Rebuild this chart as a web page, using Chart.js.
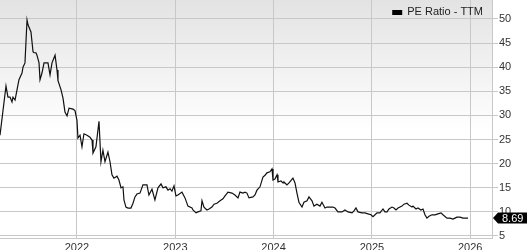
<!DOCTYPE html>
<html>
<head>
<meta charset="utf-8">
<script src="https://cdn.jsdelivr.net/npm/chart.js@4/dist/chart.umd.min.js"></script>
<style>
html, body { margin: 0; padding: 0; background: #fff; }
</style>
</head>
<body>
<canvas id="peChart" width="527" height="250"></canvas>
<script>
// dates as decimal years
const years = [
  2021.217, 2021.278, 2021.298, 2021.319, 2021.339, 2021.349, 2021.370, 2021.390, 2021.410, 2021.441,
  2021.451, 2021.471, 2021.492, 2021.502, 2021.532, 2021.553, 2021.563, 2021.583, 2021.593, 2021.614,
  2021.624, 2021.644, 2021.665, 2021.695, 2021.705, 2021.726, 2021.746, 2021.756, 2021.777, 2021.797,
  2021.807, 2021.838, 2021.858, 2021.878, 2021.899, 2021.919, 2021.960, 2021.980, 2022.000, 2022.010,
  2022.031, 2022.051, 2022.071, 2022.102, 2022.132, 2022.153, 2022.163, 2022.193, 2022.224, 2022.244,
  2022.264, 2022.285, 2022.315, 2022.336, 2022.356, 2022.376, 2022.407, 2022.427, 2022.448, 2022.468,
  2022.478, 2022.498, 2022.519, 2022.549, 2022.570, 2022.590, 2022.610, 2022.641, 2022.671, 2022.712,
  2022.732, 2022.763, 2022.793, 2022.824, 2022.855, 2022.875, 2022.905, 2022.926, 2022.946, 2022.966,
  2022.987, 2023.007, 2023.027, 2023.068, 2023.099, 2023.129, 2023.170, 2023.180, 2023.211, 2023.231,
  2023.261, 2023.272, 2023.292, 2023.322, 2023.343, 2023.373, 2023.394, 2023.424, 2023.455, 2023.485,
  2023.506, 2023.536, 2023.577, 2023.607, 2023.638, 2023.658, 2023.689, 2023.709, 2023.729, 2023.750,
  2023.790, 2023.811, 2023.831, 2023.862, 2023.892, 2023.913, 2023.933, 2023.963, 2023.984, 2023.994,
  2024.014, 2024.035, 2024.045, 2024.075, 2024.096, 2024.106, 2024.136, 2024.157, 2024.197, 2024.218,
  2024.238, 2024.258, 2024.289, 2024.309, 2024.340, 2024.360, 2024.391, 2024.411, 2024.441, 2024.472,
  2024.492, 2024.523, 2024.543, 2024.574, 2024.604, 2024.625, 2024.655, 2024.696, 2024.726, 2024.757,
  2024.798, 2024.818, 2024.838, 2024.859, 2024.899, 2024.930, 2024.960, 2024.991, 2025.011, 2025.032,
  2025.052, 2025.082, 2025.113, 2025.133, 2025.154, 2025.174, 2025.204, 2025.225, 2025.245, 2025.266,
  2025.306, 2025.327, 2025.357, 2025.377, 2025.408, 2025.418, 2025.449, 2025.469, 2025.499, 2025.520,
  2025.540, 2025.560, 2025.581, 2025.611, 2025.642, 2025.672, 2025.703, 2025.723, 2025.764, 2025.794,
  2025.825, 2025.845, 2025.865, 2025.896, 2025.927, 2025.957, 2025.978
];
const peValues = [
  25.9, 36.1, 33.8, 33.8, 32.8, 33.8, 33.2, 35.3, 37.4, 38.8,
  40.0, 40.9, 49.8, 48.8, 47.3, 43.2, 43.0, 43.0, 42.5, 40.9,
  37.4, 38.8, 40.9, 40.9, 40.9, 38.4, 40.9, 40.9, 42.5, 39.4,
  37.2, 35.3, 33.6, 30.7, 29.9, 31.5, 31.3, 31.0, 29.0, 25.3,
  25.9, 23.5, 26.2, 25.9, 25.5, 24.9, 22.2, 23.5, 28.8, 20.4,
  22.8, 20.4, 22.4, 20.4, 17.7, 17.0, 17.4, 16.6, 15.0, 15.2,
  12.5, 11.0, 10.8, 10.8, 11.8, 13.1, 13.7, 13.9, 15.6, 15.6,
  13.5, 14.7, 12.5, 15.0, 15.8, 15.0, 15.2, 14.5, 14.8, 14.3,
  15.4, 13.3, 13.5, 14.1, 12.9, 11.2, 10.8, 10.4, 9.8, 10.0,
  10.2, 12.3, 11.0, 10.4, 10.6, 11.0, 11.6, 11.8, 12.3, 12.7,
  13.3, 14.1, 13.9, 13.5, 12.9, 14.1, 13.9, 14.1, 13.9, 12.9,
  13.1, 13.5, 14.5, 15.2, 17.2, 17.6, 18.1, 18.3, 18.9, 16.6,
  16.8, 17.7, 16.2, 16.4, 16.0, 16.2, 15.6, 16.0, 17.0, 16.0,
  13.9, 12.0, 11.0, 12.0, 12.3, 13.1, 12.3, 11.2, 11.6, 11.2,
  12.0, 10.8, 11.0, 11.0, 11.0, 10.8, 10.0, 10.0, 10.4, 10.0,
  9.8, 10.2, 10.8, 10.0, 9.8, 9.8, 9.6, 9.4, 9.0, 9.4,
  9.8, 9.8, 10.6, 10.0, 10.0, 10.6, 11.0, 10.8, 10.4, 10.8,
  11.2, 11.6, 11.8, 11.4, 11.0, 11.2, 10.6, 10.8, 10.4, 10.6,
  9.4, 8.7, 9.1, 9.4, 9.4, 9.6, 9.8, 9.4, 8.7, 8.7,
  8.5, 8.7, 8.9, 8.9, 8.7, 8.7, 8.69
];
const yearTicks = [2022, 2023, 2024, 2025, 2026];
const peTicks = [5, 10, 15, 20, 25, 30, 35, 40, 45, 50];
const seriesLabel = "PE Ratio - TTM";

const FONT = "'Liberation Sans', Arial, sans-serif";
const GRID = "#c8c8c8";

// grey-to-white fill behind the plot
const plotBackground = {
  id: "plotBackground",
  beforeDraw(chart) {
    const { ctx, chartArea: a } = chart;
    const g = ctx.createLinearGradient(0, a.top, 0, a.bottom);
    g.addColorStop(0, "#e3e3e3");
    g.addColorStop(0.55, "#ffffff");
    g.addColorStop(1, "#ffffff");
    ctx.save();
    ctx.fillStyle = g;
    ctx.fillRect(a.left, a.top, a.right - a.left, a.bottom - a.top);
    ctx.restore();
  }
};

// legend box + label in the top-right of the plot
const cornerLegend = {
  id: "cornerLegend",
  afterDatasetsDraw(chart) {
    const { ctx, chartArea: a } = chart;
    ctx.save();
    ctx.font = "11px " + FONT;
    ctx.textBaseline = "middle";
    ctx.textAlign = "right";
    const right = a.right - 9;
    const w = ctx.measureText(seriesLabel).width;
    ctx.fillStyle = "#222";
    ctx.fillText(seriesLabel, right, a.top + 12);
    ctx.fillStyle = "#000";
    ctx.fillRect(right - w - 15, a.top + 10, 10, 5);
    ctx.restore();
  }
};

// black tag with the last value on the right axis
const lastValueTag = {
  id: "lastValueTag",
  afterDraw(chart) {
    const { ctx, chartArea: a, scales } = chart;
    const v = peValues[peValues.length - 1];
    const py = Math.round(scales.y.getPixelForValue(v));
    const x0 = a.right + 1;
    const h = 5.5;
    ctx.save();
    ctx.fillStyle = "#000";
    ctx.beginPath();
    ctx.moveTo(x0, py);
    ctx.lineTo(x0 + 5, py - h);
    ctx.lineTo(chart.width, py - h);
    ctx.lineTo(chart.width, py + h);
    ctx.lineTo(x0 + 5, py + h);
    ctx.closePath();
    ctx.fill();
    ctx.fillStyle = "#fff";
    ctx.font = "11px " + FONT;
    ctx.textBaseline = "middle";
    ctx.fillText(v.toFixed(2), x0 + 9, py + 0.5);
    ctx.restore();
  }
};

const points = years.map((x, i) => ({ x: x, y: peValues[i] }));

new Chart(document.getElementById("peChart").getContext("2d"), {
  type: "line",
  data: {
    datasets: [{
      label: seriesLabel,
      data: points,
      borderColor: "#111",
      backgroundColor: "#000",
      borderWidth: 1.2,
      pointRadius: 0,
      tension: 0,
      fill: false
    }]
  },
  options: {
    responsive: false,
    animation: false,
    layout: { padding: 0 },
    plugins: {
      legend: { display: false },
      tooltip: { enabled: false }
    },
    scales: {
      x: {
        type: "linear",
        min: 2021.217,
        max: 2026.222,
        afterBuildTicks: axis => { axis.ticks = yearTicks.map(v => ({ value: v })); },
        afterFit: axis => {
          axis.height = 12;
          axis.paddingLeft = 0;
          axis.paddingRight = 0;
        },
        grid: { color: GRID, drawTicks: false },
        border: { color: GRID },
        ticks: {
          padding: 3,
          color: "#333",
          maxRotation: 0,
          font: { family: FONT, size: 11 },
          callback: v => String(v)
        }
      },
      y: {
        position: "right",
        min: 4.585,
        max: 53.94,
        afterBuildTicks: axis => { axis.ticks = peTicks.map(v => ({ value: v })); },
        afterFit: axis => {
          axis.width = 35;
          axis.paddingTop = 0;
          axis.paddingBottom = 0;
        },
        grid: { color: GRID, tickLength: 6 },
        border: { color: GRID },
        ticks: {
          padding: 1,
          color: "#333",
          font: { family: FONT, size: 11 },
          callback: v => String(v)
        }
      }
    }
  },
  plugins: [plotBackground, cornerLegend, lastValueTag]
});
</script>
</body>
</html>
